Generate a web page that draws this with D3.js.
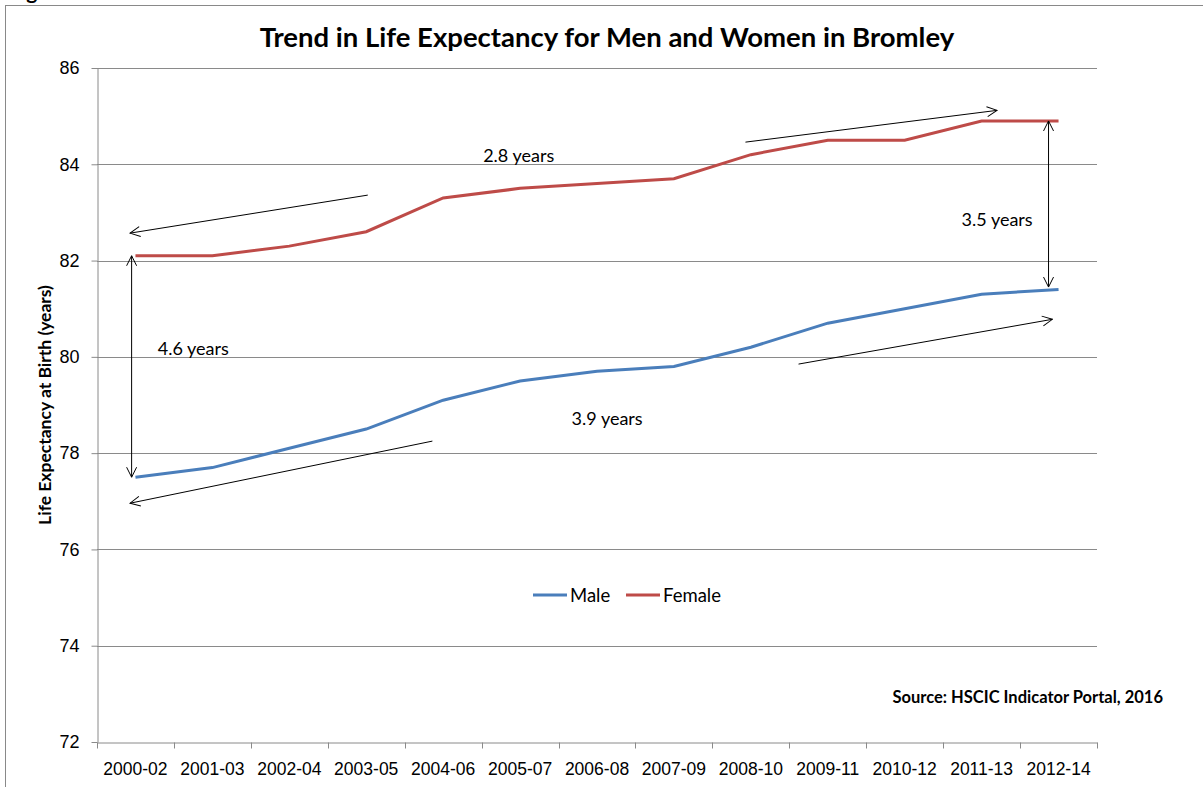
<!DOCTYPE html>
<html>
<head>
<meta charset="utf-8">
<script src="https://cdn.jsdelivr.net/npm/d3@7"></script>
<style>
  body { margin: 0; background: #fff; }
  svg { font-family: Lato, "Open Sans", sans-serif; }
</style>
</head>
<body>
<script>
const w = 1203;
const h = 787;
const margin = {top: 68, right: 106, bottom: 45, left: 97};

const periods = ["2000-02", "2001-03", "2002-04", "2003-05", "2004-06", "2005-07", "2006-08",
                 "2007-09", "2008-10", "2009-11", "2010-12", "2011-13", "2012-14"];
const male = [77.5, 77.7, 78.1, 78.5, 79.1, 79.5, 79.7, 79.8, 80.2, 80.7, 81.0, 81.3, 81.4];
const female = [82.1, 82.1, 82.3, 82.6, 83.3, 83.5, 83.6, 83.7, 84.2, 84.5, 84.5, 84.9, 84.9];
const yTicks = [72, 74, 76, 78, 80, 82, 84, 86];

// annotation arrows, x as period index, y in years of life expectancy
const arrows = [
  {x1: 3.02, y1: 83.36, x2: -0.07, y2: 82.57, both: false},
  {x1: 3.86, y1: 78.25, x2: -0.07, y2: 76.96, both: false},
  {x1: -0.05, y1: 82.1, x2: -0.05, y2: 77.5, both: true},
  {x1: 7.93, y1: 84.46, x2: 11.2, y2: 85.12, both: false},
  {x1: 8.62, y1: 79.85, x2: 11.92, y2: 80.78, both: false},
  {x1: 11.87, y1: 84.9, x2: 11.87, y2: 81.45, both: true}
];
const notes = [
  {x: 4.52, y: 84.04, label: "2.8 years"},
  {x: 0.29, y: 80.04, label: "4.6 years"},
  {x: 5.67, y: 78.58, label: "3.9 years"},
  {x: 10.74, y: 82.71, label: "3.5 years"}
];

const svg = d3.select("body")
              .append("svg")
              .attr("width", w)
              .attr("height", h)

// outer chart frame, cut off on the right and bottom
svg.append("rect")
   .attr("x", 5.5)
   .attr("y", 5.5)
   .attr("width", w + 10)
   .attr("height", h + 10)
   .attr("fill", "none")
   .attr("stroke", "#898989")

svg.append("text")
   .text("Figure")
   .attr("x", 9)
   .attr("y", -1)
   .style("font-weight", "bold")
   .style("font-size", "21px")

const xBand = d3.scaleBand()
                .domain(periods)
                .range([margin.left, w - margin.right])

const xIdx = d3.scaleLinear()
               .domain([0, periods.length - 1])
               .range([xBand(periods[0]) + xBand.bandwidth() / 2,
                       xBand(periods[periods.length - 1]) + xBand.bandwidth() / 2])

const yScale = d3.scaleLinear()
                 .domain([72, 86])
                 .range([h - margin.bottom, margin.top])

// gridlines
svg.append("g")
   .selectAll("line")
   .data(yTicks.slice(1))
   .enter()
   .append("line")
   .attr("x1", margin.left)
   .attr("x2", w - margin.right)
   .attr("y1", d => Math.round(yScale(d)) + 0.5)
   .attr("y2", d => Math.round(yScale(d)) + 0.5)
   .attr("stroke", "#8a8a8a")

const xAxis = d3.axisBottom(xBand)
                .tickSizeInner(0)
                .tickSizeOuter(0)

const gx = svg.append("g")
   .attr("transform", "translate(0," + (Math.round(yScale(72)) + 0.5) + ")")
   .call(xAxis)
gx.select(".domain").attr("stroke", "#8a8a8a")
gx.selectAll("text").attr("dy", 0).attr("y", 32).style("font-size", "17.5px").attr("fill", "#000")

// x tick marks at band edges
gx.selectAll(".edge")
  .data(periods.concat(["end"]))
  .enter()
  .append("line")
  .attr("x1", (d, i) => Math.round(margin.left + i * xBand.bandwidth()) + 0.5)
  .attr("x2", (d, i) => Math.round(margin.left + i * xBand.bandwidth()) + 0.5)
  .attr("y1", 0)
  .attr("y2", 6)
  .attr("stroke", "#8a8a8a")

const yAxis = d3.axisLeft(yScale)
                .tickValues(yTicks)
                .tickSizeInner(6)
                .tickSizeOuter(0)

const gy = svg.append("g")
   .attr("transform", "translate(" + (margin.left + 0.5) + ",0)")
   .call(yAxis)
gy.select(".domain").attr("stroke", "#8a8a8a")
gy.selectAll("line").attr("stroke", "#8a8a8a")
gy.selectAll("text").attr("x", -18).style("font-size", "18px").attr("fill", "#000")

svg.append("text")
   .text("Life Expectancy at Birth (years)")
   .attr("transform", "translate(51," + yScale(79) + ") rotate(-90)")
   .attr("text-anchor", "middle")
   .style("font-weight", "bold")
   .style("font-size", "17.5px")

svg.append("text")
   .text("Trend in Life Expectancy for Men and Women in Bromley")
   .attr("x", 607)
   .attr("y", 47)
   .attr("text-anchor", "middle")
   .style("font-weight", "bold")
   .style("font-size", "27.5px")

// series lines
const line = d3.line()
               .x((d, i) => xIdx(i))
               .y(d => yScale(d))

svg.append("path")
   .datum(male)
   .attr("d", line)
   .attr("fill", "none")
   .attr("stroke", "#4a7ebb")
   .attr("stroke-width", 3)

svg.append("path")
   .datum(female)
   .attr("d", line)
   .attr("fill", "none")
   .attr("stroke", "#be4b48")
   .attr("stroke-width", 3)

// open arrowheads
const defs = svg.append("defs")
defs.append("marker")
    .attr("id", "head")
    .attr("viewBox", "0 0 12 12")
    .attr("refX", 11)
    .attr("refY", 6)
    .attr("markerWidth", 12)
    .attr("markerHeight", 12)
    .attr("markerUnits", "userSpaceOnUse")
    .attr("orient", "auto-start-reverse")
    .append("path")
    .attr("d", "M1,1 L11,6 L1,11")
    .attr("fill", "none")
    .attr("stroke", "#000")
    .attr("stroke-width", 1)

svg.append("g")
   .selectAll("line")
   .data(arrows)
   .enter()
   .append("line")
   .attr("x1", d => xIdx(d.x1))
   .attr("y1", d => yScale(d.y1))
   .attr("x2", d => xIdx(d.x2))
   .attr("y2", d => yScale(d.y2))
   .attr("stroke", "#000")
   .attr("stroke-width", 1)
   .attr("marker-end", "url(#head)")
   .attr("marker-start", d => d.both ? "url(#head)" : null)

svg.append("g")
   .selectAll("text")
   .data(notes)
   .enter()
   .append("text")
   .attr("x", d => xIdx(d.x))
   .attr("y", d => yScale(d.y))
   .text(d => d.label)
   .style("font-size", "18px")

// legend
const legendItems = [
  {label: "Male", color: "#4a7ebb", x: 533},
  {label: "Female", color: "#be4b48", x: 626}
];
const legend = svg.selectAll(".legends")
                  .data(legendItems)
                  .enter()
                  .append("g")
legend.append("line")
      .attr("x1", d => d.x)
      .attr("x2", d => d.x + 34)
      .attr("y1", 595)
      .attr("y2", 595)
      .attr("stroke", d => d.color)
      .attr("stroke-width", 3)
legend.append("text")
      .attr("x", d => d.x + 37)
      .attr("y", 602)
      .text(d => d.label)
      .style("font-size", "18.5px")

svg.append("text")
   .text("Source: HSCIC Indicator Portal, 2016")
   .attr("x", 1163)
   .attr("y", 703)
   .attr("text-anchor", "end")
   .style("font-weight", "bold")
   .style("font-size", "16.5px")
</script>
</body>
</html>
